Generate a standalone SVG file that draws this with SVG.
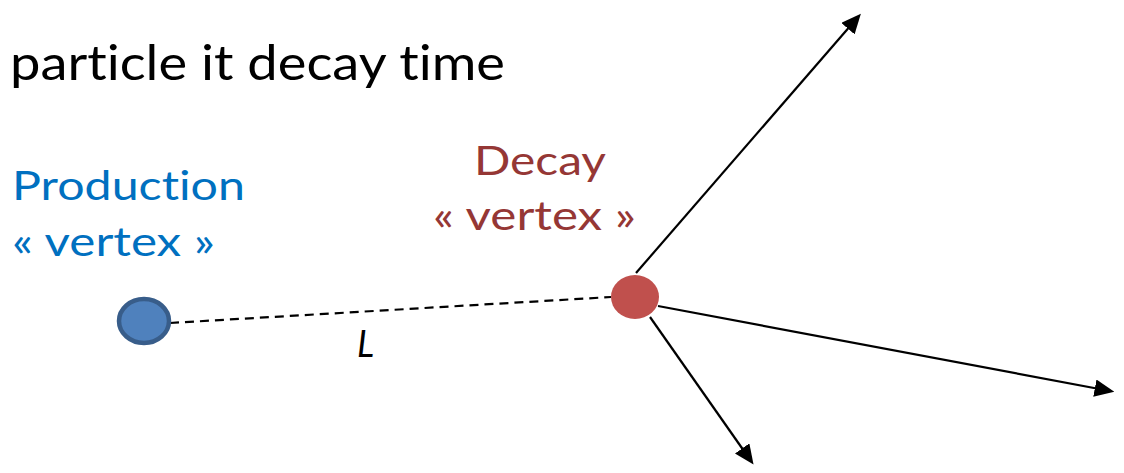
<svg xmlns="http://www.w3.org/2000/svg" width="1124" height="473" viewBox="0 0 1124 473">
<defs>
<style>
.t{font-family:Lato,"Open Sans",sans-serif;font-variant-ligatures:none;}
.arr{stroke:#000;stroke-width:2.2;fill:none;marker-end:url(#ah);}
</style>
<marker id="ah" markerWidth="9" markerHeight="8" refX="7" refY="4" orient="auto" markerUnits="strokeWidth">
<path d="M0,0 L9,4 L0,8 z" fill="#000"/>
</marker>
</defs>
<rect width="1124" height="473" fill="#fff"/>
<text class="t" x="10" y="80" font-size="48" fill="#000" textLength="495" lengthAdjust="spacingAndGlyphs">particle it decay  time</text>
<g id="connectors">
<line x1="170" y1="323" x2="611" y2="297" stroke="#000" stroke-width="2.2" stroke-dasharray="9,6"/>
<line class="arr" x1="636" y1="273" x2="858" y2="17"/>
<line class="arr" x1="658" y1="306" x2="1110" y2="391"/>
<line class="arr" x1="650" y1="317" x2="751" y2="461"/>
</g>
<g id="production">
<ellipse cx="144" cy="321" rx="25" ry="22" fill="#4F81BD" stroke="#385D8A" stroke-width="4.5"/>
<text class="t" x="12" y="200" font-size="41" fill="#0070C0" textLength="233" lengthAdjust="spacingAndGlyphs">Production</text>
<text class="t" x="12" y="256" font-size="41" fill="#0070C0" textLength="203" lengthAdjust="spacingAndGlyphs">« vertex »</text>
</g>
<g id="decay">
<ellipse cx="635" cy="297" rx="24" ry="22" fill="#C0504D"/>
<text class="t" x="474" y="175" font-size="41" fill="#953735" textLength="132" lengthAdjust="spacingAndGlyphs">Decay</text>
<text class="t" x="433" y="230" font-size="41" fill="#953735" textLength="203" lengthAdjust="spacingAndGlyphs">« vertex »</text>
</g>
<text class="t" x="357" y="357" font-size="36" font-style="italic" fill="#000">L</text>
</svg>
